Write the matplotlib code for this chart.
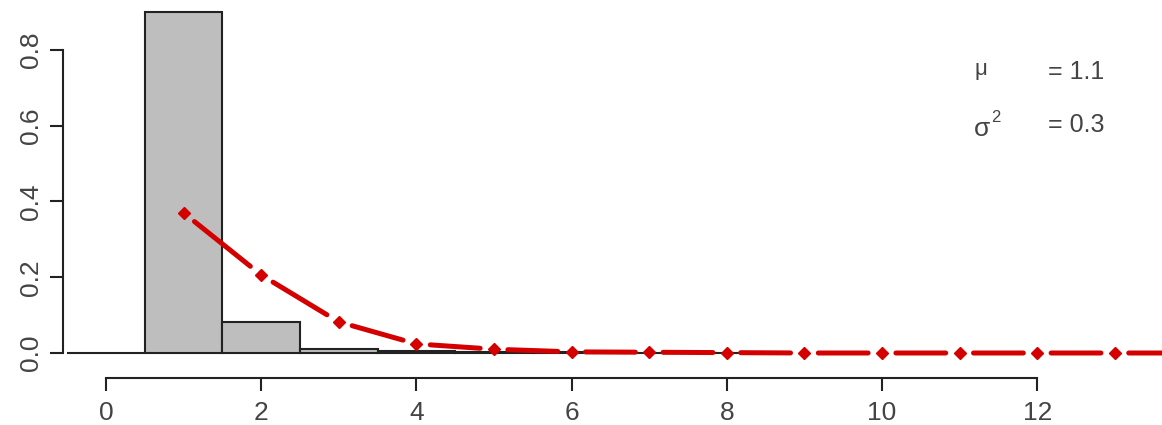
import matplotlib.pyplot as plt

plt.rcParams['font.family'] = ['Liberation Sans', 'DejaVu Sans']

# histogram bins (centres) and heights
bin_centres = [0, 1, 2, 3, 4, 5, 6, 7, 8]
bin_heights = [0.0, 0.90, 0.082, 0.011, 0.005, 0.003, 0.002, 0.001, 0.001]

# fitted curve points (last one lies past the right edge)
curve_x = [1, 2, 3, 4, 5, 6, 7, 8, 9, 10, 11, 12, 13, 14]
curve_y = [0.37, 0.206, 0.082, 0.024, 0.010, 0.003, 0.002, 0.001,
           0.0, 0.0, 0.0, 0.0, 0.0, 0.0]

x_ticks = [0, 2, 4, 6, 8, 10, 12]
y_ticks = [0.0, 0.2, 0.4, 0.6, 0.8]

mu_text = "= 1.1"
sigma_text = "= 0.3"

RED = '#d40000'
W, H = 1162, 425
fig = plt.figure(figsize=(W / 100, H / 100), dpi=100)
ax = fig.add_axes([63 / W, (H - 378) / H, (W - 63) / W, 378 / H])

ax.bar(bin_centres, bin_heights, width=1.0, color='#bebebe',
       edgecolor='#222222', linewidth=1.5, zorder=2)

# R type="b": segments with gaps around each point
for i in range(len(curve_x) - 1):
    ax.annotate('', xy=(curve_x[i + 1], curve_y[i + 1]),
                xytext=(curve_x[i], curve_y[i]),
                arrowprops=dict(arrowstyle='-', color=RED, lw=3.6,
                                shrinkA=10, shrinkB=10, capstyle='round'),
                annotation_clip=False, zorder=3)
ax.plot(curve_x, curve_y, linestyle='none', marker='D', markersize=6.5,
        color=RED, clip_on=False, zorder=4)

ax.set_xlim(-0.554, 13.608)
ax.set_ylim(-0.066, 0.932)

for s in ['top', 'right']:
    ax.spines[s].set_visible(False)
ax.spines['left'].set_bounds(0, 0.8)
ax.spines['bottom'].set_bounds(0, 12)
for s in ['left', 'bottom']:
    ax.spines[s].set_color('#222222')
    ax.spines[s].set_linewidth(1.5)

ax.set_xticks(x_ticks)
ax.set_yticks(y_ticks)
ax.set_xticklabels([str(t) for t in x_ticks])
ax.set_yticklabels(['%.1f' % t for t in y_ticks], rotation=90, va='center')
ax.tick_params(axis='both', direction='out', length=9.5, width=1.5,
               color='#222222', labelcolor='#444444', labelsize=19)
ax.tick_params(axis='x', pad=7)
ax.tick_params(axis='y', pad=5)

txt = dict(transform=fig.transFigure, color='#444444', va='center', ha='left')
ax.text(975 / W, 1 - 70 / H, "\u03bc", fontsize=16, **txt)
ax.text(1048 / W, 1 - 72 / H, mu_text, fontsize=18, **txt)
ax.text(974 / W, 1 - 129 / H, "\u03c3", fontsize=19, **txt)
ax.text(991 / W, 1 - 117 / H, "2", fontsize=12, **txt)
ax.text(1048 / W, 1 - 125 / H, sigma_text, fontsize=18, **txt)

fig.savefig('out.png', dpi=100)
